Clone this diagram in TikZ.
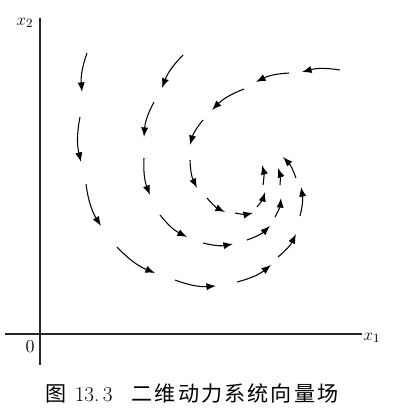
\documentclass[tikz,border=0pt]{standalone}
\usepackage{fontspec}
\newfontfamily\cjk[LetterSpace=10]{Noto Sans CJK SC}
\usetikzlibrary{arrows.meta}
\tikzset{
    axisline/.style={line width=0.8pt, color=black!85},
    fieldarrow/.style={
        -{Latex[length=2.4mm, width=1.8mm]}, line width=0.75pt,
        bend right=12
    },
    axislabel/.style={font=\fontsize{13}{15}\selectfont, inner sep=0pt},
    caption/.style={font=\fontsize{15}{17}\selectfont, inner sep=0pt},
}

\begin{document}
\begin{tikzpicture}[x=0.025cm, y=-0.025cm]
    \useasboundingbox (0,0) rectangle (402,410);
    % axes
    \coordinate (origin) at (40,334);
    \coordinate (ytop) at (40,18);
    \coordinate (ybot) at (40,365);
    \coordinate (xleft) at (5,334);
    \coordinate (xright) at (362,334);
    \draw[axisline] (ybot) -- (ytop);
    \draw[axisline] (xleft) -- (xright);
    \node[axislabel] (lblxtwo) at (25,23) {$x_2$};
    \node[axislabel] (lblxone) at (372,338) {$x_1$};
    \node[axislabel] (lblorigin) at (30,347) {0};
    % vector field, three spiralling streams
    \foreach \ax/\ay/\bx/\by in {
        87/53/82/92, 80/117/81/162, 86/184/101/226, 117/247/155/273,
        175/280/216/286, 237/282/271/265, 278/257/296/234,
        300/216/301/187, 296/178/283/157,
        183/55/162/88, 154/102/144/137, 144/158/150/195, 160/215/187/237,
        203/243/233/244, 247/240/270/226, 275/217/281/198, 280/185/278/168,
        340/70/302/72, 289/73/256/82, 244/89/212/110, 203/120/190/145,
        190/160/197/188, 207/198/225/212, 235/213/253/213,
        257/207/265/192, 263/185/262/165}
        \draw[fieldarrow] (\ax,\ay) to (\bx,\by);
    % caption
    \node[caption, anchor=west] (figcap) at (45,393)
        {{\cjk 图}\hspace{0.4em}13.\,3\hspace{0.9em}{\cjk 二维动力系统向量场}};
\end{tikzpicture}
\end{document}
